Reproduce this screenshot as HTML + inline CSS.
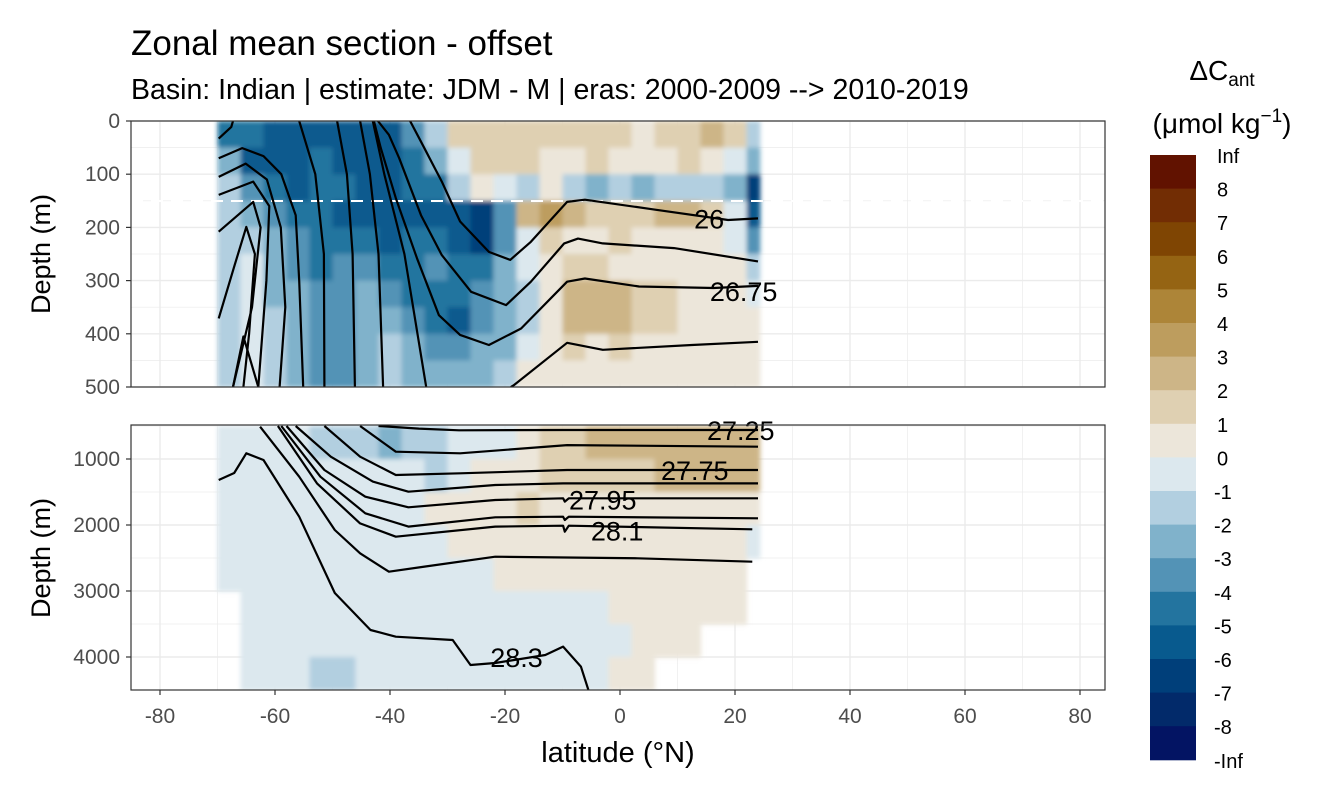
<!DOCTYPE html>
<html><head><meta charset="utf-8"><style>
body{margin:0;background:#fff;}
svg text{font-family:"Liberation Sans",Arial,sans-serif;}
</style></head><body>
<svg id="chart" width="1344" height="806" viewBox="0 0 1344 806" xmlns="http://www.w3.org/2000/svg">
<text x="131" y="55" font-size="35" fill="#000">Zonal mean section - offset</text>
<text x="131" y="99" font-size="28.5" fill="#000">Basin: Indian | estimate: JDM - M | eras: 2000-2009 --&gt; 2010-2019</text>
<defs>
<clipPath id="clipTop"><rect x="131" y="121" width="974" height="266"/></clipPath>
<clipPath id="clipBot"><rect x="131" y="425" width="974" height="265"/></clipPath>
<filter id="soft" x="-5%" y="-5%" width="110%" height="110%"><feGaussianBlur stdDeviation="2.5"/></filter>
</defs>
<g id="gridTop"></g><g id="gridBot"></g>
<g clip-path="url(#clipTop)"><g id="cellsTop" filter="url(#soft)"></g></g>
<g clip-path="url(#clipBot)"><g id="cellsBot" filter="url(#soft)"></g></g>
<line x1="131" x2="1105" y1="201" y2="201" stroke="#fff" stroke-width="2" stroke-dasharray="12,8"/>
<g id="linesTop" clip-path="url(#clipTop)"></g>
<g id="linesBot" clip-path="url(#clipBot)"></g>
<g id="labels"></g>
<rect x="131" y="121" width="974" height="266" fill="none" stroke="#333" stroke-width="1.2"/>
<rect x="131" y="425" width="974" height="265" fill="none" stroke="#333" stroke-width="1.2"/>
<g id="axes"></g>
<text x="618" y="762" font-size="29" text-anchor="middle">latitude (°N)</text>
<text transform="translate(50,254) rotate(-90)" font-size="27" text-anchor="middle">Depth (m)</text>
<text transform="translate(50,558) rotate(-90)" font-size="27" text-anchor="middle">Depth (m)</text>
<text x="1222" y="80" font-size="28" text-anchor="middle">ΔC<tspan font-size="19" dy="6">ant</tspan></text>
<text x="1222" y="133" font-size="28" text-anchor="middle">(μmol kg<tspan font-size="19" dy="-11">−1</tspan><tspan dy="11">)</tspan></text>
<g id="legend"></g>
</svg>
<script>
const NS="http://www.w3.org/2000/svg";
const legendLabels=["Inf","8","7","6","5","4","3","2","1","0","-1","-2","-3","-4","-5","-6","-7","-8","-Inf"];
const binColors=["#611200","#722d04","#7f4503","#956413","#ad8538","#bd9d5e","#cdb587","#dfd0b2","#ece6da","#dce8ee","#b2cfe0","#80b2cb","#5393b6","#23749f","#085a8e","#003f7a","#022a6a","#031463"];
const latEdges=[-70,-66,-62,-58,-54,-50,-46,-42,-38,-34,-30,-26,-22,-18,-14,-10,-6,-2,2,6,10,14,18,22,24.3];
const topDepthEdges=[0,50,100,150,200,250,300,350,400,450,500];
const botDepthEdges=[500,1000,1500,2000,2500,3000,3500,4000,4500];
const topValues=[
[-4.5,-4.5,-5.5,-5.5,-5.5,-5.5,-5.5,-5.5,-3.5,-1.5,1.5,1.5,1.5,1.5,1.5,1.5,1.5,1.5,0.5,1.5,1.5,2.5,1.5,-1.5],
[-2.5,-5.5,-5.5,-5.5,-4.5,-5.5,-5.5,-5.5,-4.5,-2.5,-0.5,1.5,1.5,1.5,0.5,0.5,1.5,0.5,0.5,0.5,1.5,0.5,-0.5,-2.5],
[-1.5,-3.5,-4.5,-5.5,-4.5,-4.5,-5.5,-5.5,-4.5,-4.5,-1.5,0.5,-0.5,-1.5,0.5,-1.5,-2.5,-1.5,-2.5,-1.5,-1.5,-1.5,-2.5,-6.5],
[-1.5,-2.5,-3.5,-4.5,-4.5,-5.5,-5.5,-5.5,-5.5,-5.5,-5.5,-6.5,-3.5,2.5,3.5,2.5,1.5,1.5,1.5,2.5,2.5,1.5,-0.5,-5.5],
[-1.5,-1.5,-2.5,-3.5,-4.5,-4.5,-4.5,-5.5,-4.5,-4.5,-5.5,-6.5,-3.5,-0.5,1.5,0.5,0.5,1.5,0.5,0.5,0.5,0.5,-0.5,-3.5],
[-1.5,-0.5,-2.5,-3.5,-4.5,-3.5,-3.5,-4.5,-4.5,-3.5,-4.5,-4.5,-2.5,-0.5,0.5,1.5,1.5,0.5,0.5,0.5,0.5,0.5,0.5,-1.5],
[-1.5,-0.5,-2.5,-2.5,-3.5,-3.5,-2.5,-3.5,-4.5,-4.5,-4.5,-3.5,-2.5,-1.5,0.5,2.5,2.5,2.5,1.5,1.5,0.5,0.5,0.5,-0.5],
[-1.5,-0.5,-1.5,-2.5,-3.5,-3.5,-2.5,-2.5,-3.5,-4.5,-5.5,-3.5,-2.5,-1.5,0.5,2.5,2.5,2.5,1.5,1.5,0.5,0.5,0.5,0.5],
[-1.5,-0.5,-1.5,-2.5,-3.5,-3.5,-2.5,-1.5,-2.5,-3.5,-3.5,-2.5,-2.5,-0.5,0.5,1.5,0.5,1.5,0.5,0.5,0.5,0.5,0.5,0.5],
[-1.5,-0.5,-1.5,-2.5,-3.5,-3.5,-2.5,-1.5,-2.5,-2.5,-2.5,-2.5,-1.5,0.5,0.5,0.5,0.5,0.5,0.5,0.5,0.5,0.5,0.5,0.5]];
const NA=null;
const botValues=[
[-0.5,-0.5,-0.5,-0.5,-1.5,-1.5,-1.5,-2.5,-1.5,-1.5,-0.5,-0.5,-0.5,0.5,1.5,1.5,2.5,2.5,2.5,2.5,2.5,2.5,2.5,2.5],
[-0.5,-0.5,-0.5,-0.5,-0.5,-0.5,-0.5,-0.5,-0.5,-1.5,-0.5,0.5,0.5,0.5,1.5,1.5,1.5,1.5,1.5,2.5,2.5,2.5,2.5,2.5],
[-0.5,-0.5,-0.5,-0.5,-0.5,-0.5,-0.5,-0.5,-0.5,0.5,0.5,0.5,0.5,1.5,0.5,0.5,0.5,0.5,0.5,0.5,0.5,0.5,0.5,0.5],
[-0.5,-0.5,-0.5,-0.5,-0.5,-0.5,-0.5,-0.5,-0.5,-0.5,0.5,0.5,0.5,0.5,0.5,0.5,0.5,0.5,0.5,0.5,0.5,0.5,0.5,-0.5],
[-0.5,-0.5,-0.5,-0.5,-0.5,-0.5,-0.5,-0.5,-0.5,-0.5,-0.5,-0.5,0.5,0.5,0.5,0.5,0.5,0.5,0.5,0.5,0.5,0.5,0.5,NA],
[NA,-0.5,-0.5,-0.5,-0.5,-0.5,-0.5,-0.5,-0.5,-0.5,-0.5,-0.5,-0.5,-0.5,-0.5,-0.5,-0.5,0.5,0.5,0.5,0.5,0.5,0.5,NA],
[NA,-0.5,-0.5,-0.5,-0.5,-0.5,-0.5,-0.5,-0.5,-0.5,-0.5,-0.5,-0.5,-0.5,-0.5,-0.5,-0.5,-0.5,0.5,0.5,0.5,NA,NA,NA],
[NA,-0.5,-0.5,-0.5,-1.5,-1.5,-0.5,-0.5,-0.5,-0.5,-0.5,-0.5,-0.5,-0.5,-0.5,-0.5,-0.5,0.5,0.5,NA,NA,NA,NA,NA]];
const topContours=[
[[-69.8,33],[-67.6,11],[-67.3,0]],
[[-69.8,70],[-65.7,51],[-62,66],[-58.9,100],[-56.4,177],[-55.8,300],[-55.1,500]],
[[-55.8,0],[-53,100],[-51.5,250],[-51.4,500]],
[[-49.2,0],[-47.5,100],[-46.5,250],[-46.1,500]],
[[-45.2,0],[-43.5,100],[-42,250],[-41.2,500]],
[[-43,0],[-41,100],[-37.5,250],[-33.7,500]],
[[-69.8,105],[-65.1,80],[-61.4,110],[-59,200],[-58.2,350],[-59.2,500]],
[[-69.8,139],[-63.8,114],[-61,160],[-61.5,300],[-62.9,500]],
[[-69.8,208],[-63.8,152],[-62.5,200],[-64,350],[-67.3,500]],
[[-69.8,371],[-67,270],[-65,199],[-63.5,250],[-64.5,400],[-65.5,500]],
[[-67.3,500],[-65.5,405],[-62.9,500]],
[[-36.5,0],[-34.6,39],[-31,114],[-27.8,189],[-22.8,246],[-19.1,261],[-15.5,227],[-9.2,152],[-6.1,148],[6.3,167],[18.8,186],[24,183]],
[[-42.1,0],[-40.2,26],[-38.4,70],[-34.6,177],[-31,252],[-25.9,321],[-19.8,346],[-15.5,302],[-9.7,230],[-7.3,221],[-3,230],[9.4,239],[24,264]],
[[-42.8,0],[-41.6,51],[-39,145],[-35.3,258],[-31.5,365],[-27.8,402],[-22.8,421],[-17.2,390],[-9.2,302],[-6.1,296],[3.3,311],[16.3,314],[24,310]],
[[-19,500],[-18.4,496],[-9.2,417],[-3,430],[12.5,421],[24,415]]];
const botContours=[
[[-42,500],[-35,540],[-28,565],[-10,560],[24,561]],
[[-45.2,500],[-39,889],[-27.8,914],[-9.2,790],[24,814]],
[[-51.4,500],[-45.2,965],[-39,1242],[-27.8,1217],[-9.2,1167],[24,1167]],
[[-56.4,500],[-50.3,965],[-43,1343],[-36.8,1495],[-21.7,1394],[-9.9,1369],[24,1369]],
[[-58,500],[-51.4,1167],[-44.3,1571],[-36.8,1732],[-21.7,1621],[-9.9,1596],[-9.6,1646],[-8.9,1596],[24,1596]],
[[-58.9,500],[-52.1,1268],[-44.3,1823],[-36.8,2025],[-21.7,1884],[-9.9,1874],[-9.6,1924],[-8.9,1874],[24,1899]],
[[-59.5,500],[-52.7,1369],[-45.2,1975],[-39,2177],[-21.7,2025],[-9.9,2010],[-9.6,2101],[-8.9,2010],[23,2065]],
[[-62.6,510],[-55.8,1268],[-49.6,2076],[-45.2,2429],[-40.2,2707],[-34,2631],[-21.7,2480],[3.1,2505],[23,2556]],
[[-69.8,1318],[-67.1,1212],[-65,914],[-62,1015],[-55.8,1874],[-49.6,3030],[-43.4,3591],[-39,3692],[-29.1,3742],[-26,4121],[-21.7,4091],[-13,3970],[-9.9,3843],[-6.8,4146],[-5.5,4500]]];
const contourLabels=["26","26.75","27.25","27.75","27.95","28.1","28.3"];
const labelLats=[15.5,21.5,21,13,-3,-0.5,-18];
const labelDepths=[183,320,560,1170,1610,2080,4000];
const labelPanels=["top","top","bot","bot","bot","bot","bot"];
const xTicks=[-80,-60,-40,-20,0,20,40,60,80];
const topTicks=[0,100,200,300,400,500];
const botTicks=[1000,2000,3000,4000];

const xS=l=>620+l*5.75;
const yT=d=>121+d*0.532;
const yB=d=>459+(d-1000)*0.066;
function colorOf(v){const idx=Math.max(0,Math.min(17,Math.floor(8-v)+1));return binColors[idx];}
function mk(tag,attrs,parent){const e=document.createElementNS(NS,tag);for(const k in attrs)e.setAttribute(k,attrs[k]);parent.appendChild(e);return e;}

const gT=document.getElementById('gridTop'),gB=document.getElementById('gridBot');
for(let l=-90;l<=90;l+=10){const x=xS(l);if(x<131||x>1105)continue;const major=l%20===0;
 const a=mk('line',{x1:x,x2:x,y1:121,y2:387,stroke:'#ebebeb','stroke-width':major?1.4:0.7},gT);
 
 
 const b=mk('line',{x1:x,x2:x,y1:425,y2:690,stroke:'#ebebeb','stroke-width':major?1.4:0.7},gB);
 
 }
for(let d=0;d<=500;d+=50){const y=yT(d);const e=mk('line',{x1:131,x2:1105,y1:y,y2:y,stroke:'#ebebeb','stroke-width':d%100===0?1.4:0.7},gT);
 
 }
for(let d=500;d<=4500;d+=500){const y=yB(d);const e=mk('line',{x1:131,x2:1105,y1:y,y2:y,stroke:'#ebebeb','stroke-width':d%1000===0?1.4:0.7},gB);
 
 }

function drawCells(vals,dEdges,ys,g){
 for(let r=0;r<vals.length;r++)for(let c=0;c<vals[r].length;c++){const v=vals[r][c];if(v===null)continue;
  const x0=xS(latEdges[c]),x1=xS(latEdges[c+1]),y0=ys(dEdges[r]),y1=ys(dEdges[r+1]);
  const e=mk('rect',{x:x0,y:y0,width:x1-x0+0.6,height:y1-y0+0.6,fill:colorOf(v)},g);
  
  }}
drawCells(topValues,topDepthEdges,yT,document.getElementById('cellsTop'));
drawCells(botValues,botDepthEdges,yB,document.getElementById('cellsBot'));

function drawLines(set,ys,g){set.forEach(pts=>{const d=pts.map((p,i)=>(i?'L':'M')+xS(p[0]).toFixed(1)+','+ys(p[1]).toFixed(1)).join('');
 const e=mk('path',{d:d,fill:'none',stroke:'#000','stroke-width':2.2,'stroke-linejoin':'round'},g);
 
 });}
drawLines(topContours,yT,document.getElementById('linesTop'));
drawLines(botContours,yB,document.getElementById('linesBot'));

const lg=document.getElementById('labels');
contourLabels.forEach((t,i)=>{const ys=labelPanels[i]==='top'?yT:yB;
 const e=mk('text',{x:xS(labelLats[i]),y:ys(labelDepths[i])+10,'font-size':27,'text-anchor':'middle'},lg);e.textContent=t;
 
 });

const ax=document.getElementById('axes');
xTicks.forEach(v=>{const x=xS(v);mk('line',{x1:x,x2:x,y1:690,y2:695,stroke:'#333','stroke-width':1.2},ax);
 const t=mk('text',{x:x,y:723,'font-size':21,'text-anchor':'middle',fill:'#4d4d4d'},ax);t.textContent=v;
 
 });
topTicks.forEach(v=>{const y=yT(v);mk('line',{x1:126,x2:131,y1:y,y2:y,stroke:'#333','stroke-width':1.2},ax);
 const t=mk('text',{x:120,y:y+7,'font-size':21,'text-anchor':'end',fill:'#4d4d4d'},ax);t.textContent=v;
 
 });
botTicks.forEach(v=>{const y=yB(v);mk('line',{x1:126,x2:131,y1:y,y2:y,stroke:'#333','stroke-width':1.2},ax);
 const t=mk('text',{x:120,y:y+7,'font-size':21,'text-anchor':'end',fill:'#4d4d4d'},ax);t.textContent=v;
 
 });

const lgd=document.getElementById('legend');const legTop=155,legStep=33.6;
binColors.forEach((c,i)=>{const e=mk('rect',{x:1150,y:legTop+i*legStep,width:46,height:legStep+0.5,fill:c},lgd);
 
 });
legendLabels.forEach((t,i)=>{const e=mk('text',{x:(t[0]==='-'?1214:1217),y:legTop+i*legStep+8,'font-size':20,fill:'#000'},lgd);e.textContent=t;
 
 });
</script>
</body></html>
